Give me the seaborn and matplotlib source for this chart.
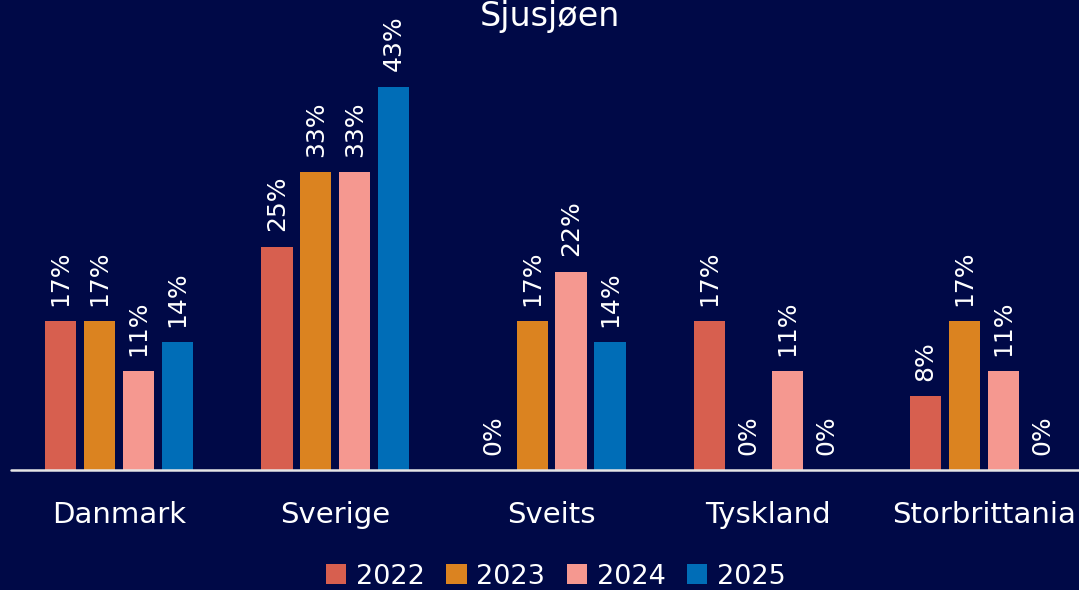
import pandas as pd
import matplotlib
matplotlib.use("Agg")
import matplotlib.pyplot as plt
import seaborn as sns

# ---------------- DATA ----------------
countries = ["Danmark", "Sverige", "Sveits", "Tyskland", "Storbrittania"]
years = ["2022", "2023", "2024", "2025"]
share_2022 = [16.7, 25.0, 0.0, 16.7, 8.3]
share_2023 = [16.7, 33.3, 16.7, 0.0, 16.7]
share_2024 = [11.1, 33.3, 22.2, 11.1, 11.1]
share_2025 = [14.3, 42.9, 14.3, 0.0, 0.0]

colors = ["#D75F4F", "#DB8320", "#F59890", "#006DB7"]
bg = "#000947"

rows = []
for year, vals in zip(years, [share_2022, share_2023, share_2024, share_2025]):
    for c, v in zip(countries, vals):
        rows.append({"Land": c, "År": year, "Andel": v})
df = pd.DataFrame(rows)

# ---------------- PLOT ----------------
sns.set_style("dark")
plt.rcParams["font.family"] = ["DejaVu Sans"]

fig = plt.figure(figsize=(10.79, 5.9), dpi=100, facecolor=bg)
ax = fig.add_axes([0.0102, 0.2034, 1.0, 0.6814])
ax.set_facecolor(bg)

sns.barplot(data=df, x="Land", y="Andel", hue="År", hue_order=years,
            order=countries, palette=colors, width=0.72, gap=0.2,
            saturation=1, linewidth=0, ax=ax, legend=True)

for cont in ax.containers:
    labels = [f"{round(b.get_height())}%" for b in cont]
    ax.bar_label(cont, labels=labels, rotation=90, padding=11,
                 color="white", fontsize=18)

ax.set_ylim(0, 45)
ax.set_xlim(-0.5, 4.49)
ax.axhline(0, color="#e6e6e6", lw=1.8, clip_on=False)
ax.grid(False)
ax.set_yticks([])
ax.set_xlabel("")
ax.set_ylabel("")
ax.tick_params(axis="x", colors="white", labelsize=21, length=0, pad=22)
for s in ax.spines.values():
    s.set_visible(False)

fig.text(0.51, 0.972, "Sjusjøen", color="white", fontsize=24,
         ha="center", va="center")

leg = ax.legend(loc="center", bbox_to_anchor=(0.505, -0.265), ncol=4,
                frameon=False, fontsize=19.5, handlelength=0.75,
                handleheight=0.75, handletextpad=0.35, columnspacing=0.8)
for t in leg.get_texts():
    t.set_color("white")

fig.savefig("out.png", dpi=100, facecolor=bg)
